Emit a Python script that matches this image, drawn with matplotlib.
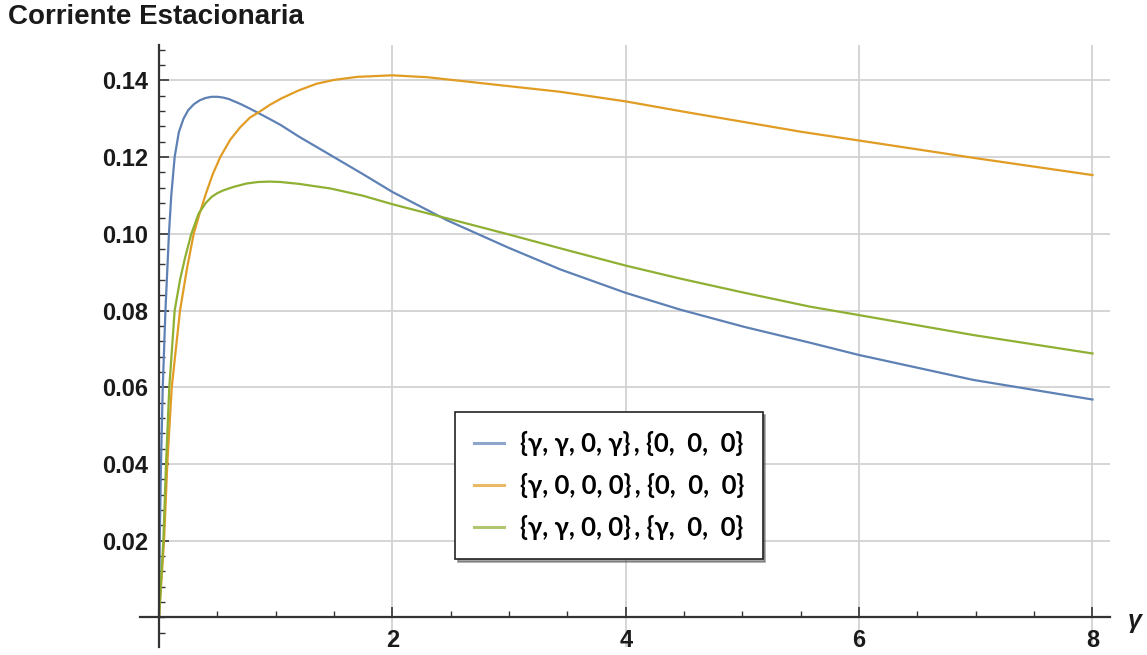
import matplotlib
matplotlib.use("Agg")
import matplotlib.pyplot as plt
from matplotlib.ticker import MultipleLocator, FixedLocator, NullFormatter


# values (gamma, stationary current)
gamma_blue = [0, 0.006, 0.017, 0.032, 0.055, 0.085, 0.105, 0.134, 0.17, 0.21,
              0.25, 0.30, 0.35, 0.40, 0.45, 0.50, 0.55, 0.60, 0.70, 0.78,
              0.90, 1.04, 1.20, 1.47, 1.75, 2.0, 2.47, 3.0, 3.44, 4.0,
              4.47, 5.02, 5.58, 6.0, 6.98, 8.0]
curr_blue = [0, 0.02, 0.04, 0.06, 0.08, 0.10, 0.11, 0.12, 0.1265, 0.130,
             0.1322, 0.1338, 0.1348, 0.1354, 0.1357, 0.1357, 0.1355, 0.1351, 0.1338, 0.1326,
             0.1307, 0.1284, 0.1253, 0.1205, 0.1155, 0.1109, 0.1035, 0.0963, 0.0907, 0.0846,
             0.0802, 0.0757, 0.0716, 0.0684, 0.0619, 0.0568]

gamma_orange = [0, 0.043, 0.071, 0.109, 0.18, 0.24, 0.297, 0.35, 0.40, 0.46,
                0.525, 0.61, 0.697, 0.78, 0.851, 0.95, 1.05, 1.2, 1.35, 1.5,
                1.7, 2.0, 2.3, 2.75, 3.44, 4.0, 4.5, 5.0, 5.5, 6.0,
                7.0, 8.0]
curr_orange = [0, 0.02, 0.04, 0.06, 0.08, 0.091, 0.10, 0.1055, 0.1103, 0.1155,
               0.12, 0.1245, 0.1278, 0.1303, 0.1316, 0.1336, 0.1353, 0.1374, 0.1391, 0.1401,
               0.1409, 0.1413, 0.1408, 0.1393, 0.1370, 0.1345, 0.1318, 0.1292, 0.1266, 0.1243,
               0.1197, 0.1153]

gamma_green = [0, 0.037, 0.06, 0.088, 0.134, 0.18, 0.225, 0.277, 0.34, 0.40,
               0.45, 0.50, 0.55, 0.637, 0.75, 0.85, 0.95, 1.04, 1.2, 1.47,
               1.75, 2.0, 2.47, 3.0, 3.44, 4.0, 4.47, 5.02, 5.58, 6.0,
               6.98, 8.0]
curr_green = [0, 0.02, 0.04, 0.06, 0.08, 0.088, 0.094, 0.10, 0.1053, 0.1080,
              0.1096, 0.1106, 0.1113, 0.1122, 0.1131, 0.1135, 0.1136, 0.1135, 0.1130, 0.1118,
              0.1099, 0.1077, 0.1040, 0.0998, 0.0962, 0.0917, 0.0883, 0.0846, 0.0810, 0.0788,
              0.0736, 0.0688]

labels = ["{γ, γ, 0, γ}\u2009, {0,  0,  0}",
          "{γ, 0, 0, 0}\u2009, {0,  0,  0}",
          "{γ, γ, 0, 0}\u2009, {γ,  0,  0}"]
colors = ["#5E81B5", "#E19C24", "#8FB032"]

x_major = [2, 4, 6, 8]
y_major = [0.02, 0.04, 0.06, 0.08, 0.10, 0.12, 0.14]
x_labels = ["2", "4", "6", "8"]
y_labels = ["0.02", "0.04", "0.06", "0.08", "0.10", "0.12", "0.14"]

plt.rcParams['font.family'] = ['Liberation Sans', 'DejaVu Sans']

fig = plt.figure(figsize=(11.47, 6.55), dpi=100)
ax = fig.add_axes([140/1147, 1 - 647/655, 970/1147, 602/655])
x_min, x_max = -0.163, 8.15
y_min, y_max = -0.0077, 0.1492
ax.set_xlim(x_min, x_max)
ax.set_ylim(y_min, y_max)

# grid lines
for gx in x_major:
    ax.axvline(gx, color="#d2d2d2", lw=1.3, zorder=0)
for gy in y_major:
    ax.hlines(gy, 0, x_max, color="#d2d2d2", lw=1.3, zorder=0)

ax.plot(gamma_blue, curr_blue, color=colors[0], lw=1.6, label=labels[0])
ax.plot(gamma_orange, curr_orange, color=colors[1], lw=1.6, label=labels[1])
ax.plot(gamma_green, curr_green, color=colors[2], lw=1.6, label=labels[2])

# axes crossing at the origin
ax.spines['top'].set_visible(False)
ax.spines['right'].set_visible(False)
ax.spines['left'].set_position(('data', 0))
ax.spines['bottom'].set_position(('data', 0))
for s in ['left', 'bottom']:
    ax.spines[s].set_color("#333333")
    ax.spines[s].set_linewidth(1.6)

ax.xaxis.set_major_locator(FixedLocator(x_major))
ax.yaxis.set_major_locator(FixedLocator(y_major))
ax.set_xticklabels(x_labels)
ax.set_yticklabels(y_labels)
ax.xaxis.set_minor_locator(MultipleLocator(0.5))
ax.yaxis.set_minor_locator(MultipleLocator(0.004))
ax.xaxis.set_minor_formatter(NullFormatter())
ax.yaxis.set_minor_formatter(NullFormatter())
ax.tick_params(which='major', direction='in', length=7, width=1.2, color="#333333",
               labelsize=17, pad=8)
ax.tick_params(which='minor', direction='in', length=4, width=1.0, color="#333333")
for t in ax.get_xticklabels() + ax.get_yticklabels():
    t.set_fontweight('bold')
    t.set_color("#1a1a1a")

ax.text(8.36, -0.001, "γ", fontsize=18, fontweight='bold', style='italic',
        ha='center', va='center', color="#1a1a1a", clip_on=False)

fig.text(8/1147, 1 - 17/655, "Corriente Estacionaria", fontsize=20,
         fontweight='bold', color="#1a1a1a", ha='left', va='center')

leg = ax.legend(loc='upper left', bbox_to_anchor=((455-140)/970, (647-412)/602),
                borderaxespad=0, frameon=True, fancybox=False, shadow=True,
                edgecolor="#222222", framealpha=1, handlelength=1.2,
                handletextpad=0.6, labelspacing=0.68, borderpad=0.72,
                prop={'family': ['Lato', 'DejaVu Sans'], 'weight': 'bold', 'size': 18.5})
leg.get_frame().set_linewidth(1.2)
for line in leg.get_lines():
    line.set_linewidth(2.2)
    line.set_alpha(0.7)

fig.savefig("out.png", dpi=100)
